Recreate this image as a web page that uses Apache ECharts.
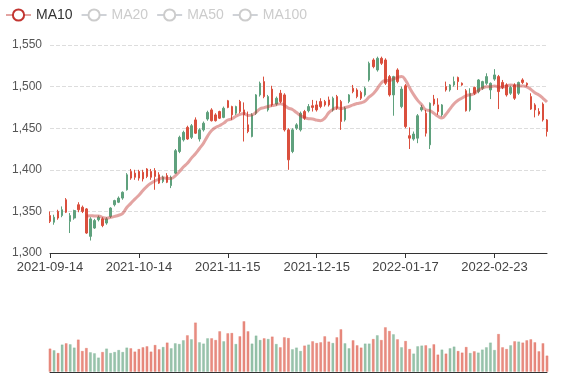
<!DOCTYPE html>
<html>
<head>
<meta charset="utf-8">
<script src="https://cdn.jsdelivr.net/npm/echarts@6/dist/echarts.min.js"></script>
<style>html,body{margin:0;padding:0;background:#fff}#chart{width:577px;height:380px}</style>
</head>
<body>
<div id="chart"></div>
<script>
// Trading dates (categories)
const dates = [
'2021-09-14','2021-09-15','2021-09-16','2021-09-17','2021-09-20','2021-09-21','2021-09-22','2021-09-23','2021-09-24','2021-09-27',
'2021-09-28','2021-09-29','2021-09-30','2021-10-01','2021-10-04','2021-10-05','2021-10-06','2021-10-07','2021-10-08','2021-10-11',
'2021-10-12','2021-10-13','2021-10-14','2021-10-15','2021-10-18','2021-10-19','2021-10-20','2021-10-21','2021-10-22','2021-10-25',
'2021-10-26','2021-10-27','2021-10-28','2021-10-29','2021-11-01','2021-11-02','2021-11-03','2021-11-04','2021-11-05','2021-11-08',
'2021-11-09','2021-11-10','2021-11-11','2021-11-12','2021-11-15','2021-11-16','2021-11-17','2021-11-18','2021-11-19','2021-11-22',
'2021-11-23','2021-11-24','2021-11-25','2021-11-26','2021-11-29','2021-11-30','2021-12-01','2021-12-02','2021-12-03','2021-12-06',
'2021-12-07','2021-12-08','2021-12-09','2021-12-10','2021-12-13','2021-12-14','2021-12-15','2021-12-16','2021-12-17','2021-12-20',
'2021-12-21','2021-12-22','2021-12-23','2021-12-27','2021-12-28','2021-12-29','2021-12-30','2021-12-31','2022-01-03','2022-01-04',
'2022-01-05','2022-01-06','2022-01-07','2022-01-10','2022-01-11','2022-01-12','2022-01-13','2022-01-14','2022-01-17','2022-01-18',
'2022-01-19','2022-01-20','2022-01-21','2022-01-24','2022-01-25','2022-01-26','2022-01-27','2022-01-28','2022-02-07','2022-02-08',
'2022-02-09','2022-02-10','2022-02-11','2022-02-14','2022-02-15','2022-02-16','2022-02-17','2022-02-18','2022-02-21','2022-02-22',
'2022-02-23','2022-02-24','2022-02-25','2022-02-28','2022-03-01','2022-03-02','2022-03-03','2022-03-04','2022-03-07','2022-03-08',
'2022-03-09','2022-03-10','2022-03-11','2022-03-14'
];

const openPrices = [
1345,1337,1350,1345,1364,1338,1342,1358,1355,1353,
1320,1330,1340,1341,1336,1344,1358,1361,1366,1376,
1398,1396,1398,1397,1401,1398,1399,1394,1386,1393,
1381,1396,1422,1436,1451,1439,1460,1437,1448,1461,
1472,1466,1470,1463,1483,1476,1468,1482,1472,1454,
1440,1468,1490,1506,1472,1497,1479,1492,1490,1448,
1422,1450,1448,1470,1471,1477,1478,1482,1482,1484,
1472,1488,1482,1460,1482,1498,1496,1493,1490,1508,
1532,1520,1534,1532,1512,1490,1520,1476,1501,1441,
1437,1438,1472,1468,1430,1485,1478,1466,1500,1496,
1502,1511,1504,1495,1472,1499,1494,1498,1504,1496,
1509,1512,1505,1502,1492,1502,1492,1508,1504,1488,
1478,1470,1479,1460
];
const closePrices = [
1338,1343,1342,1352,1349,1345,1351,1352,1350,1324,
1341,1339,1343,1333,1341,1354,1363,1366,1373,1394,
1390,1391,1390,1389,1392,1391,1392,1384,1391,1385,
1391,1423,1439,1445,1437,1453,1444,1448,1456,1469,
1459,1459,1462,1474,1475,1466,1476,1470,1466,1446,
1466,1490,1504,1488,1488,1478,1486,1482,1448,1412,
1448,1454,1468,1462,1476,1475,1472,1476,1478,1478,
1486,1474,1458,1474,1490,1494,1488,1486,1498,1528,
1524,1534,1528,1504,1490,1512,1506,1497,1452,1438,
1443,1465,1475,1444,1480,1479,1470,1478,1496,1502,
1506,1506,1502,1471,1492,1492,1508,1506,1512,1504,
1514,1494,1499,1490,1499,1486,1505,1505,1502,1473,
1472,1467,1460,1446
];
const lowPrices = [
1336,1334,1340,1343,1348,1324,1340,1349,1348,1323,
1315,1329,1338,1331,1334,1342,1356,1360,1364,1375,
1388,1388,1387,1386,1390,1388,1376,1383,1384,1384,
1378,1395,1420,1434,1436,1437,1443,1434,1446,1459,
1458,1458,1461,1462,1474,1460,1466,1468,1434,1444,
1439,1466,1488,1486,1470,1476,1477,1480,1446,1400,
1420,1448,1446,1460,1469,1470,1470,1474,1476,1476,
1470,1472,1448,1458,1480,1492,1486,1484,1488,1506,
1522,1518,1526,1502,1488,1465,1504,1474,1450,1425,
1435,1432,1470,1440,1425,1477,1466,1464,1494,1494,
1500,1496,1501,1470,1470,1490,1492,1496,1502,1485,
1507,1473,1497,1488,1490,1484,1490,1503,1500,1472,
1463,1465,1458,1440
];
const highPrices = [
1350,1346,1352,1356,1366,1348,1352,1361,1357,1354,
1343,1341,1345,1343,1343,1355,1364,1368,1374,1396,
1401,1400,1400,1400,1402,1401,1402,1397,1393,1396,
1393,1425,1441,1447,1453,1455,1463,1450,1458,1471,
1474,1468,1471,1476,1484,1477,1477,1484,1481,1470,
1468,1491,1506,1512,1490,1501,1488,1496,1492,1450,
1450,1456,1470,1472,1479,1484,1483,1486,1484,1488,
1488,1490,1484,1476,1491,1502,1498,1495,1500,1530,
1534,1536,1536,1534,1514,1513,1522,1500,1503,1451,
1446,1467,1478,1472,1481,1490,1486,1479,1506,1503,
1512,1512,1505,1497,1498,1500,1509,1507,1516,1505,
1521,1514,1508,1504,1501,1504,1506,1510,1505,1492,
1480,1474,1481,1461
];
const volumes = [
237,220,193,277,290,280,247,327,213,243,
200,190,147,203,237,193,203,223,203,247,
240,207,233,250,260,207,273,230,253,297,
240,290,283,320,370,330,497,300,287,340,
340,323,410,310,390,393,283,360,510,410,
287,367,323,340,333,357,283,250,350,343,
230,247,213,267,277,310,293,300,360,307,
293,350,430,290,240,320,270,247,287,287,
333,370,323,450,413,380,330,250,313,233,
187,260,267,270,240,280,177,227,187,240,
257,213,197,253,193,210,197,227,250,297,
223,383,250,233,270,310,307,297,320,330,
300,210,290,167
];
const maNames = ['MA10','MA20','MA50','MA100'];
const maPeriods = [10,20,50,100];

const upColor = '#5fa17d';
const downColor = '#da4f3d';

const candleData = openPrices.map((o, i) => [o, closePrices[i], lowPrices[i], highPrices[i]]);
function calcMA(n) {
  const out = [];
  for (let i = 0; i < closePrices.length; i++) {
    if (i < n - 1) { out.push('-'); continue; }
    let s = 0;
    for (let j = 0; j < n; j++) s += closePrices[i - j];
    out.push(+(s / n).toFixed(2));
  }
  return out;
}
const volData = volumes.map((v, i) => ({
  value: v,
  itemStyle: {
    color: closePrices[i] >= openPrices[i] ? 'rgba(95,161,125,0.65)' : 'rgba(218,79,61,0.65)',
    borderColor: closePrices[i] >= openPrices[i] ? 'rgba(95,161,125,0.2)' : 'rgba(218,79,61,0.2)',
    borderWidth: 1
  }
}));

const maColors = ['#c23531', '#2f4554', '#61a0a8', '#d48265'];
const maSeries = maNames.map((name, k) => ({
  name: name,
  type: 'line',
  xAxisIndex: 0, yAxisIndex: 0,
  data: calcMA(maPeriods[k]),
  smooth: true,
  showSymbol: false,
  itemStyle: { color: maColors[k] },
  lineStyle: { width: 3, opacity: 0.45, color: maColors[k] }
}));

const chart = echarts.init(document.getElementById('chart'), null, { renderer: 'canvas' });
chart.setOption({
  animation: false,
  legend: {
    left: 0, top: 3,
    data: maNames,
    selected: { MA10: true, MA20: false, MA50: false, MA100: false },
    textStyle: { color: '#333', fontSize: 14 },
    inactiveColor: '#ccc'
  },
  grid: [
    { left: 50, right: 30, top: 45, bottom: 127 },
    { left: 50, right: 30, top: 312, bottom: 8 }
  ],
  xAxis: [
    {
      type: 'category', gridIndex: 0, data: dates, boundaryGap: false,
      axisLine: { lineStyle: { color: '#333' } },
      axisTick: { interval: 21 },
      axisLabel: { interval: 21, color: '#444', fontSize: 13 },
      splitLine: { show: false }
    },
    {
      type: 'category', gridIndex: 1, data: dates, boundaryGap: false,
      axisLine: { lineStyle: { color: '#333' } },
      axisTick: { show: false },
      axisLabel: { show: false }
    }
  ],
  yAxis: [
    {
      type: 'value', gridIndex: 0, min: 1300, max: 1550, interval: 50,
      axisLine: { show: false }, axisTick: { show: false },
      axisLabel: { color: '#555' },
      splitLine: { lineStyle: { type: 'dashed', color: '#ddd' } }
    },
    {
      type: 'value', gridIndex: 1, min: 0, max: 600,
      axisLine: { show: false }, axisTick: { show: false },
      axisLabel: { show: false }, splitLine: { show: false }
    }
  ],
  series: [
    {
      name: 'Price',
      type: 'candlestick',
      xAxisIndex: 0, yAxisIndex: 0,
      data: candleData,
      itemStyle: {
        color: upColor, color0: downColor,
        borderColor: upColor, borderColor0: downColor
      }
    },
    ...maSeries,
    {
      name: 'Volume',
      type: 'bar',
      xAxisIndex: 1, yAxisIndex: 1,
      data: volData,
      barCategoryGap: '20%'
    }
  ]
});
</script>
</body>
</html>
